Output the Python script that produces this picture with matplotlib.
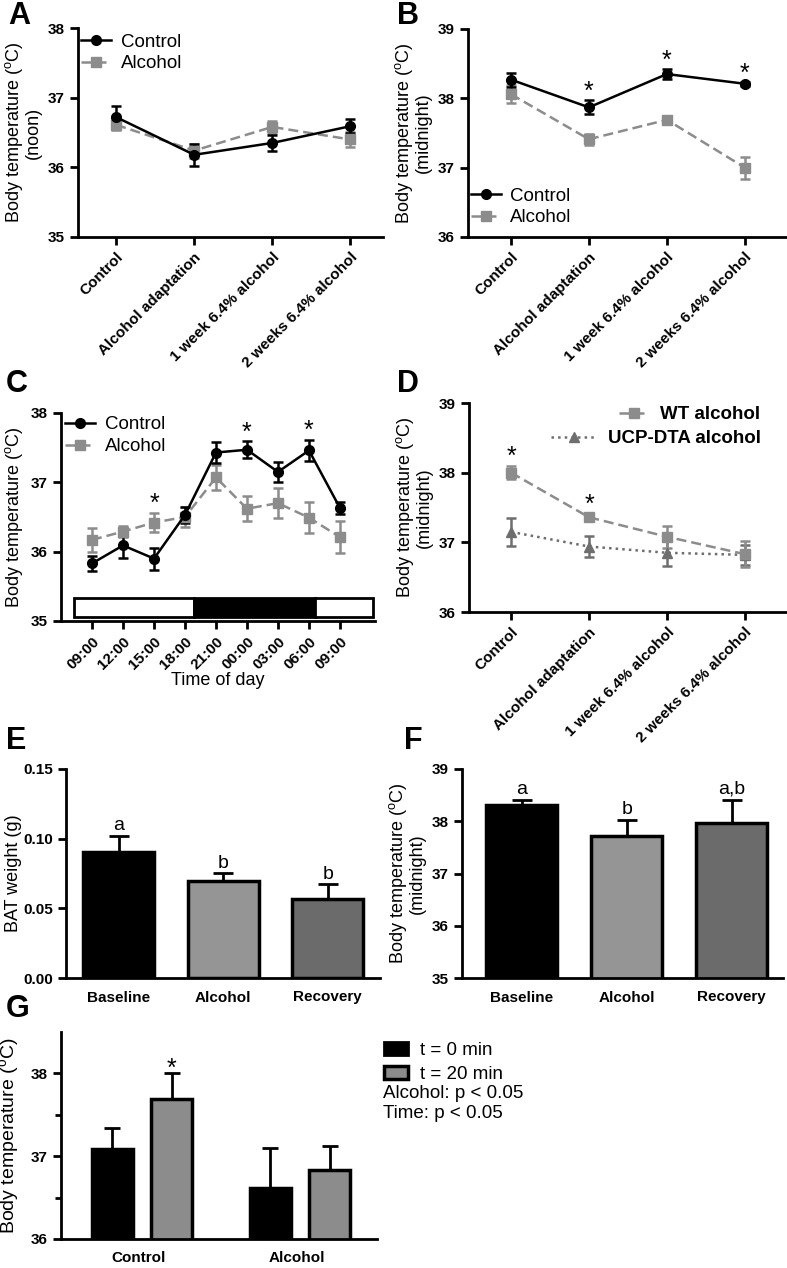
import matplotlib
matplotlib.use("Agg")
import matplotlib.pyplot as plt
from matplotlib.lines import Line2D
from matplotlib.patches import Patch

plt.rcParams['font.family'] = ['Liberation Sans', 'DejaVu Sans']
plt.rcParams['mathtext.fontset'] = 'custom'
plt.rcParams['mathtext.rm'] = 'Liberation Sans'
plt.rcParams['mathtext.it'] = 'Liberation Sans:italic'
plt.rcParams['mathtext.bf'] = 'Liberation Sans:bold'

# ---- data ----
stages = ["Control", "Alcohol adaptation", "1 week 6.4% alcohol", "2 weeks 6.4% alcohol"]

noon_control = [36.72, 36.18, 36.35, 36.59]
noon_control_err = [0.16, 0.16, 0.11, 0.10]
noon_alcohol = [36.61, 36.24, 36.58, 36.40]
noon_alcohol_err = [0.08, 0.10, 0.09, 0.11]

midnight_control = [38.27, 37.87, 38.35, 38.21]
midnight_control_err = [0.10, 0.10, 0.07, 0.03]
midnight_alcohol = [38.06, 37.41, 37.69, 37.00]
midnight_alcohol_err = [0.13, 0.08, 0.06, 0.16]
midnight_stars = [1, 2, 3]

times = ["09:00", "12:00", "15:00", "18:00", "21:00", "00:00", "03:00", "06:00", "09:00"]
day_control = [35.83, 36.09, 35.90, 36.53, 37.43, 37.47, 37.15, 37.46, 36.63]
day_control_err = [0.11, 0.18, 0.16, 0.11, 0.15, 0.12, 0.15, 0.15, 0.08]
day_alcohol = [36.17, 36.29, 36.42, 36.50, 37.07, 36.62, 36.70, 36.49, 36.21]
day_alcohol_err = [0.17, 0.08, 0.14, 0.15, 0.18, 0.18, 0.22, 0.22, 0.23]
day_stars = [2, 5, 7]
# light / dark phases on the time axis (x in time-point units)
phase_starts = [-0.58, 3.3, 7.2]
phase_ends = [3.3, 7.2, 9.06]
phase_colors = ["white", "black", "white"]

wt_alcohol = [38.00, 37.36, 37.08, 36.83]
wt_alcohol_err = [0.09, 0.05, 0.16, 0.19]
ucp_alcohol = [37.15, 36.94, 36.85, 36.82]
ucp_alcohol_err = [0.20, 0.15, 0.19, 0.14]
wt_stars = [0, 1]

periods = ["Baseline", "Alcohol", "Recovery"]
period_colors = ["#000000", "#959595", "#6b6b6b"]
bat_weight = [0.0905, 0.0696, 0.0567]
bat_weight_err = [0.0115, 0.0058, 0.0108]
bat_letters = ["a", "b", "b"]
period_temp = [38.31, 37.72, 37.97]
period_temp_err = [0.10, 0.30, 0.44]
period_letters = ["a", "b", "a,b"]

groups = ["Control", "Alcohol"]
temp_t0 = [37.09, 36.61]
temp_t0_err = [0.25, 0.49]
temp_t20 = [37.69, 36.83]
temp_t20_err = [0.31, 0.29]

GREY = "#8c8c8c"
DARK = "#6e6e6e"
YLAB = r"Body temperature ($^{\rm o}$C)"
TICK = 11
LEG = 13.5
YFS = 13

fig = plt.figure(figsize=(7.87, 12.68), dpi=100)
W, H = 787.0, 1268.0


def add_axes(left, right, top, bottom):
    return fig.add_axes([left / W, 1 - bottom / H, (right - left) / W, (bottom - top) / H])


def style(ax, labelsize=TICK):
    for s in ("top", "right"):
        ax.spines[s].set_visible(False)
    for s in ("left", "bottom"):
        ax.spines[s].set_linewidth(2)
    ax.tick_params(width=2, length=6, labelsize=labelsize)
    for t in ax.get_yticklabels():
        t.set_fontweight("bold")


def line_kw(color, ls, marker, ms):
    kw = dict(color=color, ls=ls, lw=1.8, marker=marker, ms=ms, mfc=color, mec=color)
    if ls == "--":
        kw["dashes"] = (4, 2)
    return kw


def series(ax, x, y, err, color, ls, marker, ms):
    ax.errorbar(x, y, yerr=err, ecolor=color, elinewidth=1.8, capsize=3.8,
                capthick=1.8, **line_kw(color, ls, marker, ms))
    return Line2D([], [], **line_kw(color, ls, marker, ms))


def stars(ax, idx, y, err, offset):
    for i in idx:
        ax.text(i, y[i] + err[i] + offset, "*", ha="center", va="center", fontsize=18)


def panel_letter(x, y, s):
    fig.text(x / W, 1 - y / H, s, fontsize=22, fontweight="bold", va="top", ha="left")


def stage_ticks(ax, labels):
    ax.set_xticks(list(range(len(labels))))
    ax.set_xticklabels(labels, rotation=45, ha="right", rotation_mode="anchor",
                       fontsize=10, fontweight="bold")


def two_legend(loc, anchor):
    return dict(loc=loc, bbox_to_anchor=anchor, frameon=False, fontsize=LEG,
                handlelength=1.6, handletextpad=0.5, labelspacing=0.25)


# ---- A ----
ax = add_axes(78, 383, 28, 237)
x = list(range(len(stages)))
h_alc = series(ax, x, noon_alcohol, noon_alcohol_err, GREY, "--", "s", 6.5)
h_ctl = series(ax, x, noon_control, noon_control_err, "black", "-", "o", 7)
ax.set_xlim(-0.49, 3.42)
ax.set_ylim(35, 38)
ax.set_yticks([35, 36, 37, 38])
stage_ticks(ax, stages)
ax.set_ylabel(YLAB + "\n(noon)", fontsize=YFS, labelpad=4, linespacing=1.0)
style(ax)
ax.legend([h_ctl, h_alc], ["Control", "Alcohol"], **two_legend("upper left", (-0.045, 1.055)))
panel_letter(8, 1, "A")

# ---- B ----
ax = add_axes(468, 787, 29, 237)
h_alc = series(ax, x, midnight_alcohol, midnight_alcohol_err, GREY, "--", "s", 6.5)
h_ctl = series(ax, x, midnight_control, midnight_control_err, "black", "-", "o", 7)
stars(ax, midnight_stars, midnight_control, midnight_control_err, 0.12)
ax.set_xlim(-0.55, 3.54)
ax.set_ylim(36, 39)
ax.set_yticks([36, 37, 38, 39])
stage_ticks(ax, stages)
ax.set_ylabel(YLAB + "\n(midnight)", fontsize=YFS, labelpad=4, linespacing=1.0)
style(ax)
ax.legend([h_ctl, h_alc], ["Control", "Alcohol"], **two_legend("lower left", (-0.045, -0.03)))
panel_letter(397, 1, "B")

# ---- C ----
ax = add_axes(61, 375, 413, 621)
xt = list(range(len(times)))
for s0, s1, c in zip(phase_starts, phase_ends, phase_colors):
    ax.barh(35.195, s1 - s0, left=s0, height=0.27, color=c, edgecolor="black",
            linewidth=2, zorder=1)
h_alc = series(ax, xt, day_alcohol, day_alcohol_err, GREY, "--", "s", 6.5)
h_ctl = series(ax, xt, day_control, day_control_err, "black", "-", "o", 7)
upper = [max(a + ae, c + ce) for a, ae, c, ce in
         zip(day_alcohol, day_alcohol_err, day_control, day_control_err)]
for i in day_stars:
    ax.text(i, upper[i] + 0.13, "*", ha="center", va="center", fontsize=18)
ax.set_xlim(-1.0, 9.13)
ax.set_ylim(35, 38)
ax.set_yticks([35, 36, 37, 38])
stage_ticks(ax, times)
ax.set_xlabel("Time of day", fontsize=YFS, labelpad=0)
ax.set_ylabel(YLAB, fontsize=YFS, labelpad=4)
style(ax)
ax.legend([h_ctl, h_alc], ["Control", "Alcohol"], **two_legend("upper left", (-0.04, 1.065)))
panel_letter(6, 369, "C")

# ---- D ----
ax = add_axes(469, 787, 403, 612)
h_ucp = series(ax, x, ucp_alcohol, ucp_alcohol_err, DARK, ":", "^", 7)
h_wt = series(ax, x, wt_alcohol, wt_alcohol_err, GREY, "--", "s", 6.5)
stars(ax, wt_stars, wt_alcohol, wt_alcohol_err, 0.13)
ax.set_xlim(-0.54, 3.54)
ax.set_ylim(36, 39)
ax.set_yticks([36, 37, 38, 39])
stage_ticks(ax, stages)
ax.set_ylabel(YLAB + "\n(midnight)", fontsize=YFS, labelpad=4, linespacing=1.0)
style(ax)
leg1 = ax.legend([h_wt], ["WT alcohol"], loc="upper right", bbox_to_anchor=(0.97, 1.065),
                 frameon=False, prop={"size": LEG, "weight": "bold"},
                 handlelength=1.6, handletextpad=0.6)
ax.add_artist(leg1)
ax.legend([h_ucp], ["UCP-DTA alcohol"], loc="upper right", bbox_to_anchor=(0.97, 0.95),
          frameon=False, prop={"size": LEG, "weight": "bold"},
          handlelength=2.4, handletextpad=0.6)
panel_letter(397, 369, "D")


# ---- E / F ----
def period_bars(ax, vals, errs, letters, off):
    xp = list(range(len(periods)))
    ax.errorbar(xp, vals, yerr=errs, fmt="none", ecolor="black", elinewidth=2,
                capsize=7, capthick=2, zorder=1)
    ax.bar(xp, vals, width=0.68, color=period_colors, edgecolor="black", linewidth=2.5, zorder=2)
    for i in xp:
        ax.text(i, vals[i] + errs[i] + off, letters[i], ha="center", va="bottom", fontsize=14)
    ax.set_xticks(xp)
    ax.set_xticklabels(periods, fontsize=11.5, fontweight="bold")


ax = add_axes(66, 380, 769, 978)
period_bars(ax, bat_weight, bat_weight_err, bat_letters, 0.001)
ax.set_xlim(-0.505, 2.5)
ax.set_ylim(0, 0.15)
ax.set_yticks([0, 0.05, 0.10, 0.15])
ax.set_yticklabels(["0.00", "0.05", "0.10", "0.15"])
ax.set_ylabel("BAT weight (g)", fontsize=YFS)
ax.yaxis.set_label_coords(-0.14, 0.5)
style(ax)
ax.tick_params(axis="x", length=0, pad=9)
panel_letter(6, 726, "E")

ax = add_axes(462, 783, 769, 978)
period_bars(ax, period_temp, period_temp_err, period_letters, 0.04)
ax.set_xlim(-0.57, 2.49)
ax.set_ylim(35, 39)
ax.set_yticks([35, 36, 37, 38, 39])
ax.set_ylabel(YLAB + "\n(midnight)", fontsize=YFS, labelpad=4, linespacing=1.0)
style(ax)
ax.tick_params(axis="x", length=0, pad=9)
panel_letter(404, 726, "F")

# ---- G ----
ax = add_axes(61, 377, 1032, 1239)
xg = list(range(len(groups)))
x0 = [i - 0.165 for i in xg]
x1 = [i + 0.21 for i in xg]
ax.errorbar(x0, temp_t0, yerr=temp_t0_err, fmt="none", ecolor="black", elinewidth=2,
            capsize=6, capthick=2, zorder=1)
ax.errorbar(x1, temp_t20, yerr=temp_t20_err, fmt="none", ecolor="black", elinewidth=2,
            capsize=6, capthick=2, zorder=1)
ax.bar(x0, temp_t0, width=0.26, color="black", edgecolor="black", linewidth=2.5, zorder=2)
ax.bar(x1, temp_t20, width=0.26, color=GREY, edgecolor="black", linewidth=2.5, zorder=2)
ax.text(x1[0], temp_t20[0] + temp_t20_err[0] + 0.05, "*", ha="center", va="center", fontsize=18)
ax.set_xlim(-0.49, 1.51)
ax.set_ylim(36, 38.5)
ax.set_yticks([36, 37, 38])
ax.set_yticks([36.5, 37.5], minor=True)
ax.set_xticks(xg)
ax.set_xticklabels(groups, fontsize=11.5, fontweight="bold")
ax.set_ylabel(YLAB, fontsize=14)
ax.yaxis.set_label_coords(-0.125, 0.5)
style(ax)
ax.tick_params(axis="y", which="minor", width=2, length=4)
ax.tick_params(axis="x", length=0, pad=9)
g_handles = [Patch(facecolor="black", edgecolor="black", linewidth=2),
             Patch(facecolor=GREY, edgecolor="black", linewidth=2.5)]
fig.legend(g_handles, ["t = 0 min", "t = 20 min"], loc="upper left",
           bbox_to_anchor=(376 / W, 1 - 1034 / H), frameon=False, fontsize=LEG,
           handlelength=1.33, handleheight=0.7, handletextpad=0.6, labelspacing=0.4,
           borderaxespad=0.0)
fig.text(383 / W, 1 - 1094 / H, "Alcohol: p < 0.05", fontsize=LEG, va="center")
fig.text(383 / W, 1 - 1113 / H, "Time: p < 0.05", fontsize=LEG, va="center")
panel_letter(6, 994, "G")

fig.savefig("out.png", dpi=100)
